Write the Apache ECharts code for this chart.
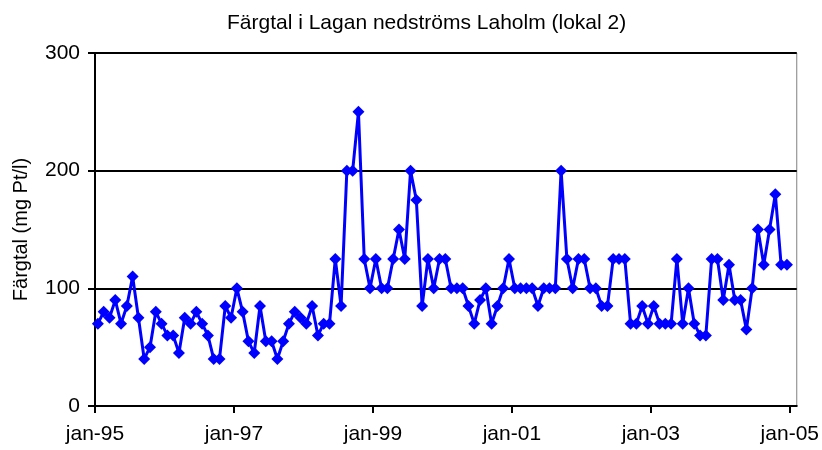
<!DOCTYPE html>
<html>
<head>
<meta charset="utf-8">
<title>Färgtal i Lagan nedströms Laholm</title>
<script src="https://cdn.jsdelivr.net/npm/echarts@6/dist/echarts.min.js"></script>
<style>
  html, body { margin: 0; padding: 0; background: #fff; }
  #chart { width: 822px; height: 450px; }
</style>
</head>
<body>
<div id="chart"></div>
<script>
// månadsvärden, jan-95 .. dec-04 (ett värde per månad)
var y1995 = [70, 80, 75, 90, 70, 85, 110, 75, 40, 50, 80, 70];
var y1996 = [60, 60, 45, 75, 70, 80, 70, 60, 40, 40, 85, 75];
var y1997 = [100, 80, 55, 45, 85, 55, 55, 40, 55, 70, 80, 75];
var y1998 = [70, 85, 60, 70, 70, 125, 85, 200, 200, 250, 125, 100];
var y1999 = [125, 100, 100, 125, 150, 125, 200, 175, 85, 125, 100, 125];
var y2000 = [125, 100, 100, 100, 85, 70, 90, 100, 70, 85, 100, 125];
var y2001 = [100, 100, 100, 100, 85, 100, 100, 100, 200, 125, 100, 125];
var y2002 = [125, 100, 100, 85, 85, 125, 125, 125, 70, 70, 85, 70];
var y2003 = [85, 70, 70, 70, 125, 70, 100, 70, 60, 60, 125, 125];
var y2004 = [90, 120, 90, 90, 65, 100, 150, 120, 150, 180, 120, 120];

var years = [y1995, y1996, y1997, y1998, y1999, y2000, y2001, y2002, y2003, y2004];
var tickLabels = ["jan-95", "jan-97", "jan-99", "jan-01", "jan-03", "jan-05"];

// x = månader sedan jan-95, punkt mitt i månaden
var seriesData = [];
years.forEach(function(vals, yi) {
  vals.forEach(function(v, m) {
    seriesData.push([yi * 12 + m + 0.5, v]);
  });
});

var FONT = "'Liberation Sans', Arial, sans-serif";
var myChart = echarts.init(document.getElementById("chart"));
myChart.setOption({
  animation: false,
  title: {
    text: "Färgtal i Lagan nedströms Laholm (lokal 2)",
    left: 222,
    top: 8,
    textStyle: { fontFamily: FONT, fontWeight: "normal", fontSize: 21, color: "#000" }
  },
  grid: { left: 95, right: 25, top: 53, bottom: 44, show: true, borderColor: "#808080", borderWidth: 1 },
  xAxis: {
    type: "value",
    min: 0,
    max: 121.2,
    interval: 24,
    axisLine: { lineStyle: { color: "#000", width: 2 } },
    axisTick: { show: true, length: 7, lineStyle: { color: "#000", width: 2 } },
    splitLine: { show: false },
    axisLabel: {
      margin: 18,
      color: "#000",
      fontFamily: FONT,
      fontSize: 21,
      showMaxLabel: false,
      formatter: function(v) {
        var i = Math.round(v / 24);
        return Math.abs(v - i * 24) < 0.01 ? tickLabels[i] : "";
      }
    }
  },
  yAxis: {
    type: "value",
    min: 0,
    max: 300,
    interval: 100,
    name: "Färgtal (mg Pt/l)",
    nameLocation: "middle",
    nameGap: 64,
    nameTextStyle: { fontFamily: FONT, fontSize: 20, color: "#000" },
    axisLine: { show: true, lineStyle: { color: "#000", width: 2 } },
    axisTick: { show: true, length: 7, lineStyle: { color: "#000", width: 2 } },
    splitLine: { show: true, lineStyle: { color: "#000", width: 2 } },
    axisLabel: { margin: 15, color: "#000", fontFamily: FONT, fontSize: 21 }
  },
  series: [
    {
      name: "Färgtal",
      type: "line",
      data: seriesData,
      symbol: "diamond",
      symbolSize: 12,
      lineStyle: { color: "#0000ff", width: 3 },
      itemStyle: { color: "#0000ff" }
    }
  ]
});
</script>
</body>
</html>
